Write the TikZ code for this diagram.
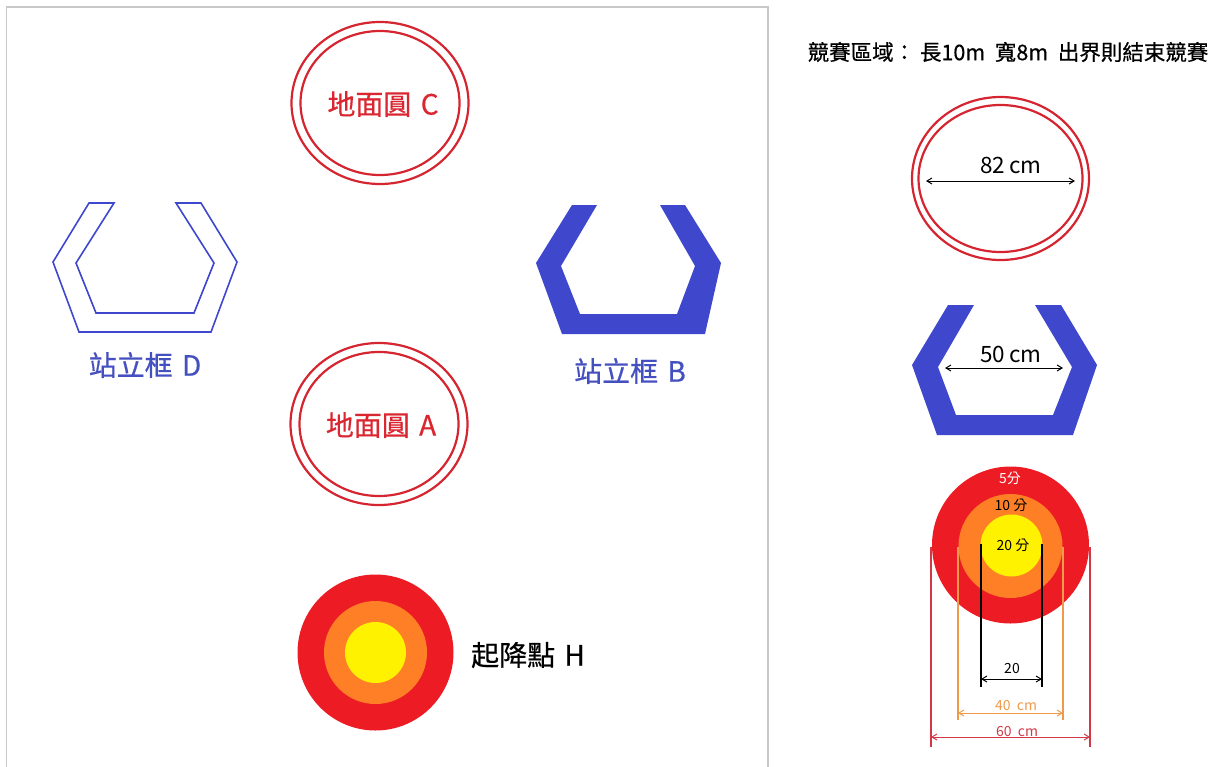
\documentclass[tikz,border=0pt]{standalone}
\usepackage{fontspec}
\setmainfont{Noto Sans CJK TC}
\newfontfamily\medfont[FakeBold=0.6]{Noto Sans CJK TC}
\usetikzlibrary{arrows.meta}
\definecolor{ringred}{HTML}{D42530}
\definecolor{txtred}{HTML}{DA2630}
\definecolor{frblue}{HTML}{3F48CC}
\definecolor{lblblue}{HTML}{4550C0}
\definecolor{tred}{HTML}{ED1C24}
\definecolor{torange}{HTML}{FF7F27}
\definecolor{tyellow}{HTML}{FFF200}
\definecolor{dimorange}{HTML}{EE9A4A}
\definecolor{dimred}{HTML}{D03A48}
\definecolor{framegray}{HTML}{C8C8C8}
\tikzset{
  bigfont/.style={font=\medfont\fontsize{28}{28}\selectfont},
  ringline/.style={draw=ringred,line width=2.2pt},
  ringtext/.style={bigfont,text=txtred},
  lbltext/.style={bigfont,text=lblblue},
  dimarrow/.style={{Straight Barb[length=5pt,width=6pt]}-{Straight Barb[length=5pt,width=6pt]},line width=1pt},
  smalltext/.style={font=\fontsize{14}{14}\selectfont,inner sep=0pt},
  midtext/.style={font=\fontsize{22.5}{22.5}\selectfont},
}
\begin{document}
\begin{tikzpicture}[x=1pt,y=-1pt]
\useasboundingbox (0,0) rectangle (1221,766);
% frame
\draw[framegray,line width=1.5pt] (6.5,770) -- (6.5,7) -- (768,7) -- (768,770);
% ground circle C
\draw[ringline] (380,103) ellipse [x radius=88.5, y radius=81];
\draw[ringline] (380,103) ellipse [x radius=79.5, y radius=72];
\node[ringtext] (lc) at (383,104) {地面圓\,\,C};
% ground circle A
\draw[ringline] (379,424) ellipse [x radius=88.5, y radius=81];
\draw[ringline] (379,424) ellipse [x radius=79.5, y radius=72];
\node[ringtext] (la) at (381,425) {地面圓\,\,A};
% frame D (outline)
\draw[frblue,line width=1.6pt,line join=miter] (89,203) -- (114,203) -- (76,263) -- (96,313) -- (194,313) -- (214,263) -- (176,203) -- (201,203) -- (237,262) -- (211,332) -- (79,332) -- (53,262) -- cycle;
\node[lbltext] (ld) at (145,365) {站立框\,\,D};
% frame B (filled)
\fill[frblue] (572,205) -- (597,205) -- (561,266) -- (580,314) -- (677,314) -- (695,266) -- (660,205) -- (685,205) -- (721,263) -- (705,334) -- (562,334) -- (536,263) -- cycle;
\node[lbltext] (lb) at (630,371) {站立框\,\,B};
% landing point H
\fill[tred] (375.5,652.5) circle (78);
\fill[torange] (375.5,652.5) circle (51.5);
\fill[tyellow] (375.5,652.5) circle (30.5);
\node[bigfont] (lh) at (528,655) {起降點\,\,H};
% right column
\node[font=\medfont\fontsize{21.5}{21.5}\selectfont] (title) at (1008,52) {競賽區域：\ 長10m\ \ 寬8m\ \ 出界則結束競賽};
% ring with dimension
\draw[ringline] (1000.5,178.5) ellipse [x radius=88.5, y radius=81.5];
\draw[ringline] (1000.5,178.5) ellipse [x radius=82, y radius=73.5];
\coordinate (r1) at (926,181);
\coordinate (r2) at (1075,181);
\draw[dimarrow] (r1) -- (r2);
\node[midtext] (l82) at (1011,165) {82\,cm};
% frame with dimension
\fill[frblue] (948,305) -- (974,305) -- (938,367) -- (956,415) -- (1053,415) -- (1072,367) -- (1035,305) -- (1061,305) -- (1097,365) -- (1073,435) -- (937,435) -- (912,365) -- cycle;
\coordinate (f1) at (945,368);
\coordinate (f2) at (1063,368);
\draw[dimarrow] (f1) -- (f2);
\node[midtext] (l50) at (1011,354) {50\,cm};
% target with dimensions
\fill[tred] (1010.5,545) circle (78.5);
\fill[torange] (1010.5,546) circle (52);
\fill[tyellow] (1011.5,545.5) circle (31);
\node[smalltext,text=white] (s5) at (1010,478) {5分};
\node[smalltext] (s10) at (1011,505) {10 分};
\node[smalltext] (s20) at (1013,545) {20 分};
% 20
\coordinate (b1t) at (981,544); \coordinate (b1b) at (981,687);
\coordinate (b2t) at (1042,544); \coordinate (b2b) at (1042,687);
\draw[line width=1.2pt] (b1t) -- (b1b) (b2t) -- (b2b);
\coordinate (ba1) at (981,679); \coordinate (ba2) at (1042,679);
\draw[dimarrow] (ba1) -- (ba2);
\node[smalltext] (l20) at (1012,668) {20};
% 40
\coordinate (o1t) at (958,547); \coordinate (o1b) at (958,720);
\coordinate (o2t) at (1063,547); \coordinate (o2b) at (1063,720);
\draw[dimorange,line width=1.2pt] (o1t) -- (o1b) (o2t) -- (o2b);
\coordinate (oa1) at (958,713); \coordinate (oa2) at (1063,713);
\draw[dimarrow,dimorange] (oa1) -- (oa2);
\node[smalltext,text=dimorange] (l40) at (1016,705) {40\ \ cm};
% 60
\coordinate (q1t) at (931,547); \coordinate (q1b) at (931,747);
\coordinate (q2t) at (1090,547); \coordinate (q2b) at (1090,747);
\draw[dimred,line width=1.2pt] (q1t) -- (q1b) (q2t) -- (q2b);
\coordinate (qa1) at (931,737); \coordinate (qa2) at (1090,737);
\draw[dimarrow,dimred] (qa1) -- (qa2);
\node[smalltext,text=dimred] (l60) at (1017,731) {60\ \ cm};
\end{tikzpicture}
\end{document}
